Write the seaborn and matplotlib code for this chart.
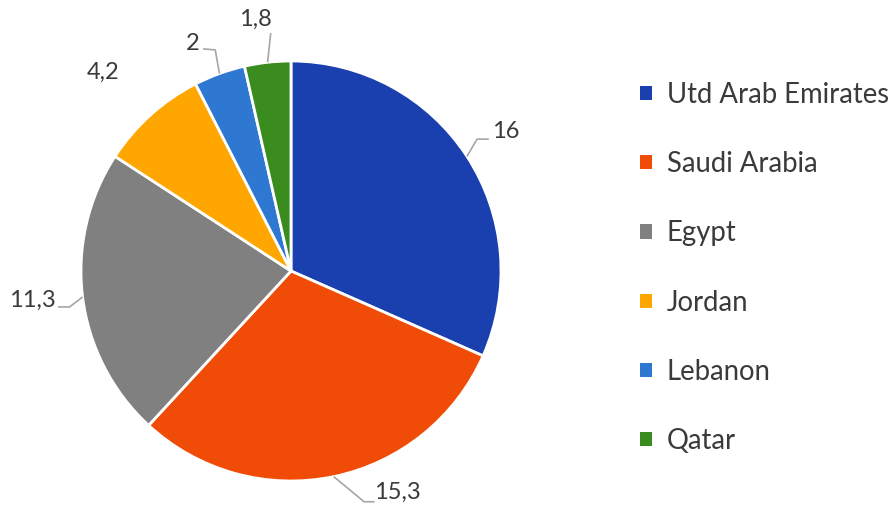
import numpy as np
import matplotlib
matplotlib.use("Agg")
import matplotlib.pyplot as plt
from matplotlib.patches import Patch
import seaborn as sns

countries = ["Utd Arab Emirates", "Saudi Arabia", "Egypt", "Jordan", "Lebanon", "Qatar"]
values = [16, 15.3, 11.3, 4.2, 2, 1.8]
value_labels = ["16", "15,3", "11,3", "4,2", "2", "1,8"]
colors = ["#1a3fae", "#f04c08", "#808080", "#ffa700", "#2e78d2", "#3a8c1e"]

sns.set_theme(style="white")
plt.rcParams["font.family"] = ["Lato", "DejaVu Sans"]

TEXT = "#3a3a3a"
LINE = "#a6a6a6"

fig = plt.figure(figsize=(8.92, 5.07), dpi=100)
ax = fig.add_axes([81 / 892, 26 / 507, 420 / 892, 420 / 507])

wedges, _ = ax.pie(values, colors=colors, startangle=90, counterclock=False,
                   radius=1.0,
                   wedgeprops=dict(edgecolor="white", linewidth=2))
ax.set_xlim(-1, 1)
ax.set_ylim(-1, 1)
ax.set_aspect("equal")
ax.axis("off")

# mid-angle of every wedge, going clockwise from 12 o'clock
total = sum(values)
angles = []
start = 90.0
for v in values:
    sweep = v / total * 360.0
    angles.append(start - sweep / 2)
    start -= sweep


def polar(a_deg, r):
    a = np.deg2rad(a_deg)
    return r * np.cos(a), r * np.sin(a)


def leader(points):
    xs, ys = zip(*points)
    ax.plot(xs, ys, color=LINE, lw=1.2, clip_on=False, solid_capstyle="butt")


def value_text(i, shift, r):
    tx, ty = polar(angles[i] + shift, r)
    ax.text(tx, ty, value_labels[i], ha="center", va="center",
            fontsize=fs, color=TEXT)
    return tx, ty


fs = 17
# 16
ex, ey = polar(angles[0], 1.0)
tx, ty = value_text(0, 0.0, 1.22)
leader([(ex, ey), (ex + 0.048, ty - 0.038), (tx - 0.08, ty - 0.038)])

# 15,3
ex, ey = polar(angles[1], 1.0)
tx, ty = value_text(1, 14.0, 1.17)
leader([(ex, ey), (tx - 0.16, ty - 0.045), (tx - 0.11, ty - 0.045)])

# 11,3
ex, ey = polar(angles[2], 1.0)
tx, ty = value_text(2, -0.7, 1.237)
leader([(ex, ey), (tx + 0.175, ty - 0.033), (tx + 0.12, ty - 0.033)])

# 4,2
value_text(3, 1.4, 1.30)

# 2
ex, ey = polar(angles[4], 1.0)
tx, ty = value_text(4, 3.5, 1.18)
leader([(ex, ey), (ex - 0.02, ty - 0.03), (tx + 0.05, ty - 0.025)])

# 1,8
ex, ey = polar(angles[5], 1.0)
tx, ty = value_text(5, 1.6, 1.21)
leader([(ex, ey), (ex + 0.015, ty - 0.065)])

handles = [Patch(facecolor=c, edgecolor="none") for c in colors]
leg = fig.legend(handles, countries, loc="upper left",
                 bbox_to_anchor=(640 / 892, 1 - 82 / 507),
                 frameon=False, fontsize=19.8, labelcolor=TEXT,
                 handlelength=0.42, handleheight=0.42, handletextpad=0.55,
                 labelspacing=1.57, borderpad=0, borderaxespad=0)

fig.savefig("out.png", dpi=100, facecolor="white")
